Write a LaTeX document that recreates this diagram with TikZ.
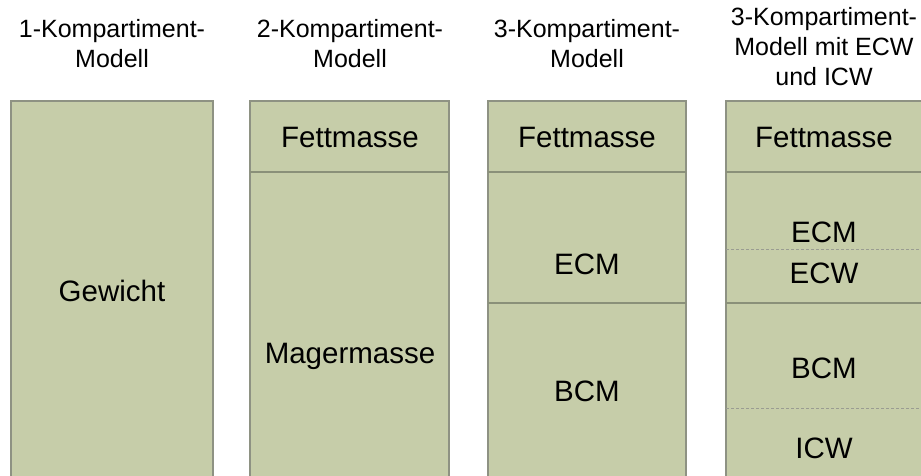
\documentclass[tikz,border=0pt]{standalone}
\usepackage{fontspec}
\setmainfont{Liberation Sans}
\definecolor{boxfill}{HTML}{C6CDA9}
\definecolor{boxline}{HTML}{8E9283}
\definecolor{divline}{HTML}{8A9079}
\definecolor{dashline}{HTML}{9A9C92}
\tikzset{
  compbox/.style={fill=boxfill, draw=boxline, line width=1.4pt},
  divider/.style={draw=divline, line width=1.6pt},
  dashdiv/.style={draw=dashline, line width=0.9pt, dash pattern=on 3pt off 2pt},
  lbl/.style={anchor=base, inner sep=0pt, font=\fontsize{29.5}{34}\selectfont},
  ttl/.style={anchor=center, inner sep=0pt, align=center, font=\fontsize{25}{30}\selectfont}
}
\begin{document}
\begin{tikzpicture}[x=1pt,y=-1pt]
\useasboundingbox (0,0) rectangle (921,476);
\fill[white] (0,0) rectangle (921,476);
\clip (0,0) rectangle (921,476);
% titles
\node[ttl] (t1) at (112,44) {1-Kompartiment-\\Modell};
\node[ttl] (t2) at (350,44) {2-Kompartiment-\\Modell};
\node[ttl] (t3) at (587,44) {3-Kompartiment-\\Modell};
\node[ttl] (t4) at (824,47) {3-Kompartiment-\\Modell mit ECW\\und ICW};
% column boxes
\draw[compbox] (11,101) rectangle (213,490);
\draw[compbox] (250,101) rectangle (449,490);
\draw[compbox] (488,101) rectangle (686,490);
\draw[compbox] (726,101) rectangle (926,490);
% dividers
\draw[divider] (250,172) -- (449,172);
\draw[divider] (488,172) -- (686,172);
\draw[divider] (488,303) -- (686,303);
\draw[divider] (726,172) -- (926,172);
\draw[dashdiv] (726,249) -- (926,249);
\draw[divider] (726,303) -- (926,303);
\draw[dashdiv] (726,408) -- (926,408);
% labels
\node[lbl] (gew) at (112,301) {Gewicht};
\node[lbl] (fm2) at (350,147) {Fettmasse};
\node[lbl] (mm2) at (350,363) {Magermasse};
\node[lbl] (fm3) at (587,147) {Fettmasse};
\node[lbl] (ecm3) at (587,274) {ECM};
\node[lbl] (bcm3) at (587,401) {BCM};
\node[lbl] (fm4) at (824,147) {Fettmasse};
\node[lbl] (ecm4) at (824,242) {ECM};
\node[lbl] (ecw4) at (824,283) {ECW};
\node[lbl] (bcm4) at (824,378) {BCM};
\node[lbl] (icw4) at (824,458) {ICW};
\end{tikzpicture}
\end{document}
